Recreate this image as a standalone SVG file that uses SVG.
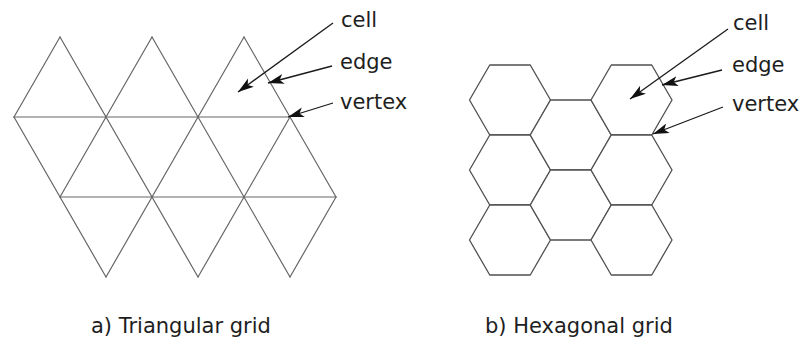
<svg xmlns="http://www.w3.org/2000/svg" xmlns:xlink="http://www.w3.org/1999/xlink" width="801" height="343" viewBox="0 0 801 343">
  <style>
    .tri { stroke: #666666; stroke-width: 1.2; fill: none; stroke-linecap: round; }
    .hex { stroke: #505050; stroke-width: 1.3; fill: #ffffff; stroke-linejoin: round; }
    .arrow { stroke: #1a1a1a; stroke-width: 1.3; fill: none; marker-end: url(#ah); }
    .lbl { font-family: "DejaVu Sans", "Liberation Sans", sans-serif; font-size: 21px; fill: #1e1e1e; }
  </style>
  <defs>
    <marker id="ah" markerUnits="userSpaceOnUse" markerWidth="18" markerHeight="12" refX="16" refY="5" orient="auto">
      <path d="M0,0 L16,5 L0,10 L4,5 z" fill="#111111"/>
    </marker>
    <polygon id="hexshape" points="-40.5,0 -20.25,-35 20.25,-35 40.5,0 20.25,35 -20.25,35"/>
  </defs>
  <rect width="801" height="343" fill="#ffffff"/>

  <g id="triangular-grid">
    <line class="tri" x1="14" y1="117" x2="290" y2="117"/>
    <line class="tri" x1="60" y1="197" x2="336" y2="197"/>
    <line class="tri" x1="60" y1="37" x2="198" y2="277"/>
    <line class="tri" x1="152" y1="37" x2="290" y2="277"/>
    <line class="tri" x1="244" y1="37" x2="336" y2="197"/>
    <line class="tri" x1="14" y1="117" x2="106" y2="277"/>
    <line class="tri" x1="14" y1="117" x2="60" y2="37"/>
    <line class="tri" x1="60" y1="197" x2="152" y2="37"/>
    <line class="tri" x1="106" y1="277" x2="244" y2="37"/>
    <line class="tri" x1="198" y1="277" x2="290" y2="117"/>
    <line class="tri" x1="290" y1="277" x2="336" y2="197"/>
  </g>

  <g id="hexagonal-grid">
    <use xlink:href="#hexshape" href="#hexshape" class="hex" transform="translate(510,100)"/>
    <use xlink:href="#hexshape" href="#hexshape" class="hex" transform="translate(510,170)"/>
    <use xlink:href="#hexshape" href="#hexshape" class="hex" transform="translate(510,240)"/>
    <use xlink:href="#hexshape" href="#hexshape" class="hex" transform="translate(570.75,135)"/>
    <use xlink:href="#hexshape" href="#hexshape" class="hex" transform="translate(570.75,205)"/>
    <use xlink:href="#hexshape" href="#hexshape" class="hex" transform="translate(631.5,100)"/>
    <use xlink:href="#hexshape" href="#hexshape" class="hex" transform="translate(631.5,170)"/>
    <use xlink:href="#hexshape" href="#hexshape" class="hex" transform="translate(631.5,240)"/>
  </g>

  <g id="connectors">
    <line class="arrow" x1="333" y1="23" x2="238" y2="92"/>
    <line class="arrow" x1="332" y1="66" x2="268" y2="83"/>
    <line class="arrow" x1="333" y1="103" x2="288" y2="117"/>
    <line class="arrow" x1="728" y1="29" x2="630" y2="99"/>
    <line class="arrow" x1="722" y1="70" x2="662" y2="85"/>
    <line class="arrow" x1="723" y1="107" x2="653" y2="134"/>
  </g>

  <g id="tri-labels">
    <text class="lbl" x="341" y="27">cell</text>
    <text class="lbl" x="340" y="69">edge</text>
    <text class="lbl" x="340" y="109">vertex</text>
  </g>
  <g id="hex-labels">
    <text class="lbl" x="733" y="30">cell</text>
    <text class="lbl" x="732" y="72">edge</text>
    <text class="lbl" x="732" y="111">vertex</text>
  </g>
  <g id="captions">
    <text class="lbl" x="91" y="333">a) Triangular grid</text>
    <text class="lbl" x="485" y="333">b) Hexagonal grid</text>
  </g>
</svg>
